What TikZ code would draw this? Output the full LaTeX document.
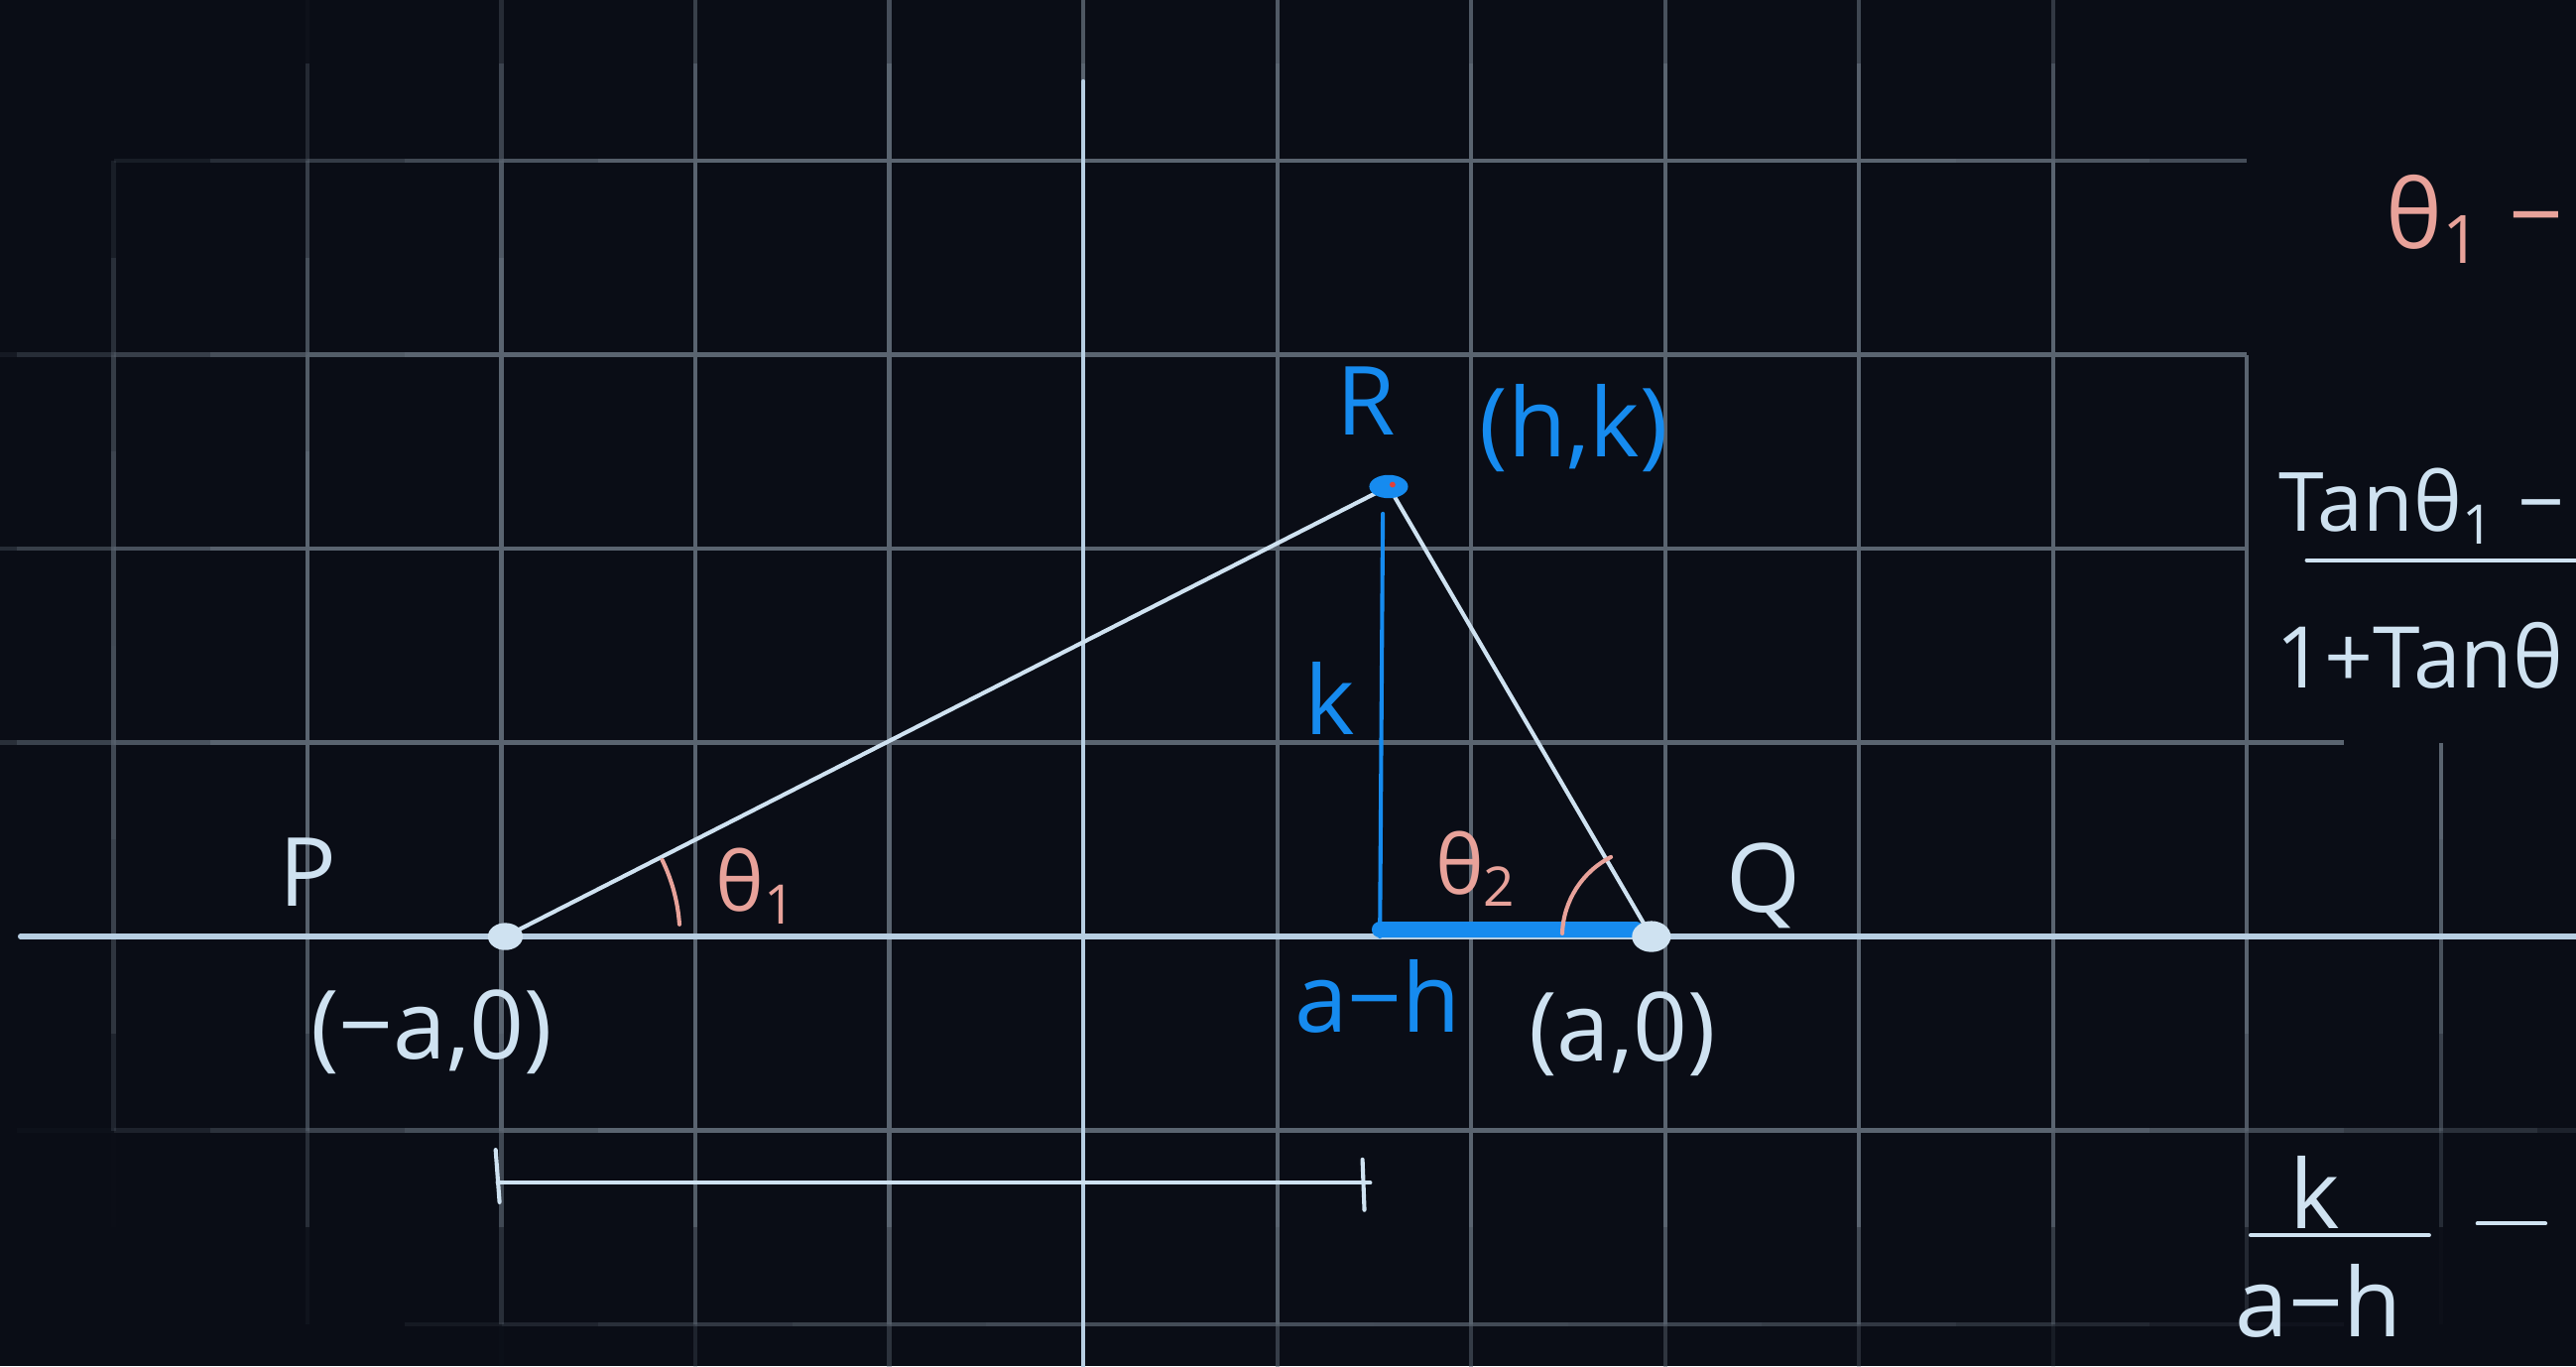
\documentclass[tikz,border=0pt]{standalone}
\usepackage{fontspec}
\setmainfont{Open Sans}
\usetikzlibrary{calc}
\definecolor{board}{HTML}{0A0D16}
\definecolor{gridgray}{HTML}{5A6470}
\definecolor{chalk}{HTML}{CFE2F1}
\definecolor{axischalk}{HTML}{B7CEE2}
\definecolor{penblue}{HTML}{168BEF}
\definecolor{penpink}{HTML}{E8A29A}
\definecolor{speck}{HTML}{E0403A}
\tikzset{
  gridline/.style={gridgray,line width=0.6pt},
  axisline/.style={axischalk,line width=0.8pt,line cap=round},
  chalkline/.style={chalk,line width=0.6pt,line cap=round},
  blueline/.style={penblue,line width=0.6pt,line cap=round},
  pinkline/.style={penpink,line width=0.6pt,line cap=round},
  lbl/.style={inner sep=0pt,font=\fontsize{14}{16}\selectfont},
  anglbl/.style={inner sep=0pt,font=\fontsize{12}{14}\selectfont,text=penpink},
}

\begin{document}
\begin{tikzpicture}[x=1cm,y=1cm,line join=round]
  \path[use as bounding box] (-5.586,-2.215) rectangle (7.698,4.829);
  \fill[board] (-5.586,-2.215) rectangle (7.698,4.829);
  \begin{scope}
  \clip (-5.586,-2.215) rectangle (7.698,4.829);

  % grid, fading out towards the edges
  \foreach \gx in {-5,...,7}{
    \foreach \gy in {-2.5,-2,...,4.5}{
      \pgfmathsetmacro{\my}{\gy+0.25}
      \pgfmathsetmacro{\rr}{((\gx-1)/(\gx<1?6.3:7.4))^2+((\my-1.3)/(\my>1.3?3.9:3.5))^2}
      \pgfmathsetmacro{\op}{((\gx>6.02&&\my>1.05)||(\gx>5.9&&\my>3.1))?0:max(0,min(1,(1.45-\rr)/0.75))}
      \draw[gridline,draw opacity=\op] (\gx,\gy) -- (\gx,\gy+0.5);
    }
  }
  \foreach \gy in {-2,-1,1,2,3,4}{
    \foreach \gx in {-6,-5.5,...,7.5}{
      \pgfmathsetmacro{\mx}{\gx+0.25}
      \pgfmathsetmacro{\rr}{((\mx-1)/(\mx<1?6.3:7.4))^2+((\gy-1.3)/(\gy>1.3?3.9:3.5))^2}
      \pgfmathsetmacro{\op}{((\mx>6.02&&\gy>1.05)||(\mx>6.5&&\gy>0.95)||(\mx>5.9&&\gy>3.1))?0:max(0,min(1,(1.45-\rr)/0.75))}
      \draw[gridline,draw opacity=\op] (\gx,\gy) -- (\gx+0.5,\gy);
    }
  }

  % axes
  \coordinate (xl) at (-5.48,0);
  \coordinate (xr) at (7.8,0);
  \coordinate (yt) at (0,4.41);
  \coordinate (yb) at (0,-2.4);
  \draw[axisline] (xl) -- (xr);
  \draw[axisline,line width=0.6pt] (yt) -- (yb);

  \coordinate (P) at (-2.98,0);
  \coordinate (Q) at (2.93,0);
  \coordinate (R) at (1.575,2.32);
  \coordinate (F) at (1.53,0);

  \draw[penblue,line width=2.4pt,line cap=round] ($(F)+(0,0.035)$) -- ($(Q)+(-0.08,0.035)$);
  \draw[blueline] ($(R)+(-0.03,-0.14)$) -- (F);
  \draw[chalkline] (P) -- (R) -- (Q);

  \draw[pinkline] ($(P)+(26:0.9)$) arc[start angle=26,end angle=4,radius=0.9];
  \draw[pinkline] ($(Q)+(178:0.46)$) arc[start angle=178,end angle=117,radius=0.46];

  \fill[chalk] (P) ellipse[x radius=0.09,y radius=0.07];
  \fill[chalk] (Q) ellipse[x radius=0.1,y radius=0.08];
  \fill[penblue] (R) ellipse[x radius=0.1,y radius=0.06];
  \fill[speck] ($(R)+(0.02,0.01)$) circle (0.015);

  % length marker under the axis
  \coordinate (bl) at (-3.02,-1.27);
  \coordinate (br) at (1.48,-1.27);
  \draw[chalkline] (bl) -- (br);
  \draw[chalkline] ($(bl)+(-0.01,0.17)$) -- ($(bl)+(0.01,-0.1)$);
  \draw[chalkline] ($(br)+(-0.04,0.12)$) -- ($(br)+(-0.03,-0.14)$);

  \node[lbl,text=chalk] (Plbl) at (-4.0,0.33) {P};
  \node[lbl,text=chalk] (Pxy) at (-3.36,-0.49) {(−a,0)};
  \node[anglbl] (th1) at (-1.68,0.26) {θ\textsubscript{1}};
  \node[lbl,text=penblue] (Rlbl) at (1.46,2.76) {R};
  \node[lbl,text=penblue] (Rxy) at (2.53,2.62) {(h,k)};
  \node[lbl,text=penblue] (klbl) at (1.27,1.23) {k};
  \node[anglbl] (th2) at (2.03,0.35) {θ\textsubscript{2}};
  \node[lbl,text=chalk] (Qlbl) at (3.51,0.26) {Q};
  \node[lbl,text=penblue] (base) at (1.52,-0.31) {a−h};
  \node[lbl,text=chalk] (Qxy) at (2.78,-0.5) {(a,0)};

  % working on the right
  \node[lbl,text=penpink,anchor=east] (diff) at (7.64,3.70) {θ\textsubscript{1} −};
  \node[lbl,text=chalk,anchor=west,font=\fontsize{12}{14}\selectfont] (num) at (6.16,2.22) {Tanθ\textsubscript{1} −};
  \coordinate (barl) at (6.31,1.94);
  \coordinate (barr) at (7.8,1.94);
  \draw[chalkline] (barl) -- (barr);
  \node[lbl,text=chalk,anchor=east,font=\fontsize{12.5}{14}\selectfont] (den) at (7.64,1.45) {1+Tanθ};

  \node[lbl,text=chalk] (kk) at (6.35,-1.32) {k};
  \coordinate (fl) at (6.02,-1.54);
  \coordinate (fr) at (6.94,-1.54);
  \draw[chalkline] (fl) -- (fr);
  \node[lbl,text=chalk] (ah) at (6.37,-1.88) {a−h};
  \coordinate (ml) at (7.19,-1.48);
  \coordinate (mr) at (7.54,-1.48);
  \draw[chalkline] (ml) -- (mr);
  \end{scope}
\end{tikzpicture}
\end{document}
